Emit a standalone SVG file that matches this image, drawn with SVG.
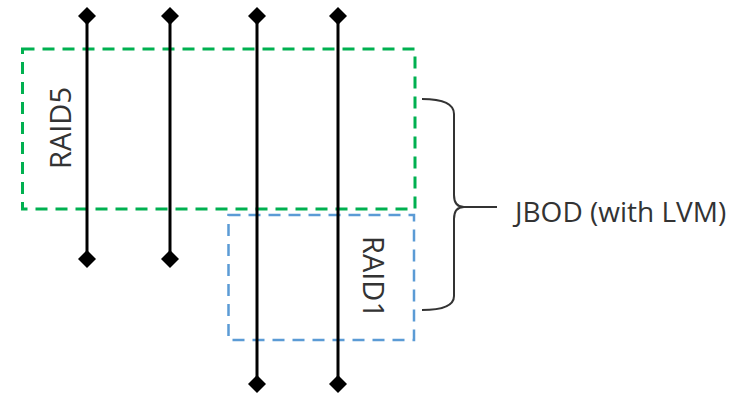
<svg xmlns="http://www.w3.org/2000/svg" width="735" height="397" viewBox="0 0 735 397">
  <defs>
    <style>
      .disk { stroke: #000; stroke-width: 3; fill: none; }
      .end { fill: #000; }
      .raid5 { fill: none; stroke: #00B050; stroke-width: 3; stroke-dasharray: 12 8; }
      .raid1 { fill: none; stroke: #5B9BD5; stroke-width: 2.5; stroke-dasharray: 12 8; }
      .brace { fill: none; stroke: #333; stroke-width: 2; }
      .lbl { font-family: "Open Sans", "Liberation Sans", sans-serif; font-size: 28px; fill: #333; }
      .vl { font-size: 29px; }
    </style>
    <path id="dm" d="M0,-9 L9,0 L0,9 L-9,0 Z"/>
  </defs>
  <rect width="735" height="397" fill="#fff"/>

  <g id="raid5">
    <rect class="raid5" x="22.5" y="49" width="392.5" height="160"/>
    <text class="lbl vl" transform="translate(71,128) rotate(-90)" text-anchor="middle">RAID5</text>
  </g>
  <g id="raid1">
    <rect class="raid1" x="228.5" y="215" width="185.5" height="125"/>
    <text class="lbl vl" transform="translate(363,277) rotate(90)" text-anchor="middle">RAID1</text>
  </g>

  <g id="connectors">
    <line class="disk" x1="87" y1="16" x2="87" y2="259"/>
    <line class="disk" x1="170" y1="16" x2="170" y2="259"/>
    <line class="disk" x1="257" y1="16" x2="257" y2="384"/>
    <line class="disk" x1="338" y1="16" x2="338" y2="384"/>
  </g>

  <g id="disk1"><use href="#dm" class="end" x="87" y="16"/><use href="#dm" class="end" x="87" y="259"/></g>
  <g id="disk2"><use href="#dm" class="end" x="170" y="16"/><use href="#dm" class="end" x="170" y="259"/></g>
  <g id="disk3"><use href="#dm" class="end" x="257" y="16"/><use href="#dm" class="end" x="257" y="384"/></g>
  <g id="disk4"><use href="#dm" class="end" x="338" y="16"/><use href="#dm" class="end" x="338" y="384"/></g>

  <g id="jbod">
    <path class="brace" d="M422,99 Q454,99 454,114 L454,195 Q454,207 464,207 Q454,207 454,219 L454,296 Q454,310 422,310 M464,207 L497,207"/>
    <text class="lbl" x="515" y="222">JBOD (with LVM)</text>
  </g>
</svg>
